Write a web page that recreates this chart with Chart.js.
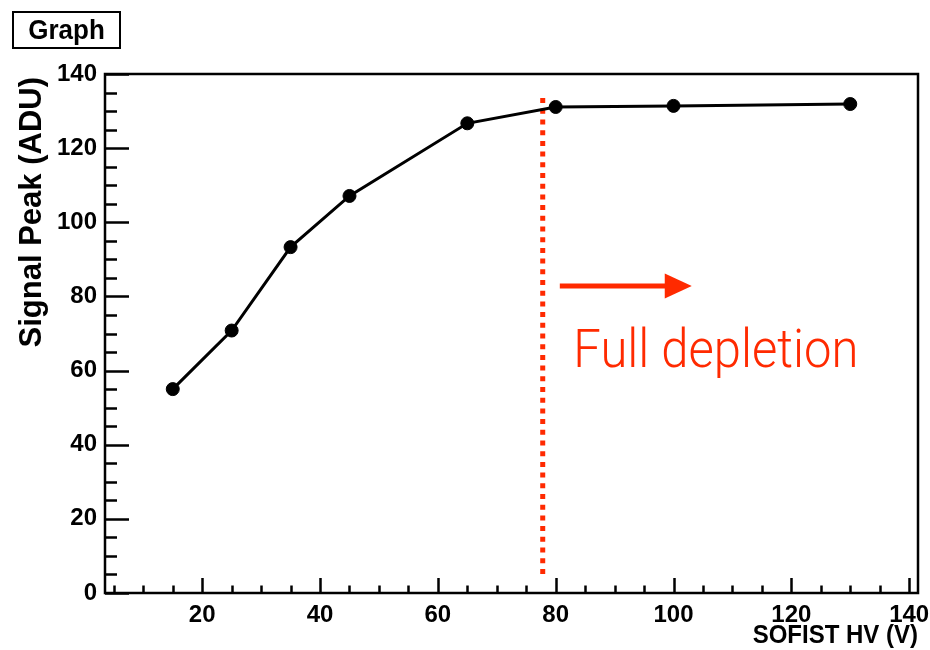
<!DOCTYPE html>
<html>
<head>
<meta charset="utf-8">
<script src="https://cdn.jsdelivr.net/npm/chart.js@4"></script>
<style>
  html, body { margin: 0; padding: 0; background: #fff; }
  #wrap { width: 930px; height: 650px; }
</style>
</head>
<body>
<div id="wrap"><canvas id="c" width="930" height="650"></canvas></div>
<script>
// ---- data ----
const hvValues = [15, 25, 35, 45, 65, 80, 100, 130];
const peakValues = [55, 70.8, 93.3, 107.1, 126.7, 131.1, 131.4, 131.9];
const xTickValues = [20, 40, 60, 80, 100, 120, 140];
const yTickValues = [0, 20, 40, 60, 80, 100, 120, 140];
const depletionV = 77.8;
const depletionLineRange = [5, 133.5];
const arrowFrom = [80.7, 82.8];
const arrowTo = [103.1, 82.8];
const annotationPos = [83.0, 61.0];
const graphTitle = 'Graph';
const xTitle = 'SOFIST HV (V)';
const yTitle = 'Signal Peak (ADU)';
const annotationText = 'Full depletion';

const RED = '#ff2a00';
const FONT = '"Liberation Sans", Arial, Helvetica, sans-serif';

const points = hvValues.map((x, i) => ({ x: x, y: peakValues[i] }));

const rootStyle = {
  id: 'rootStyle',
  beforeDatasetsDraw(chart) {
    const ctx = chart.ctx;
    const xs = chart.scales.x, ys = chart.scales.y;
    // red dotted depletion line
    ctx.save();
    ctx.strokeStyle = RED;
    ctx.lineWidth = 5;
    ctx.setLineDash([5, 5.7]);
    const px = xs.getPixelForValue(depletionV);
    ctx.beginPath();
    ctx.moveTo(px, ys.getPixelForValue(depletionLineRange[1]));
    ctx.lineTo(px, ys.getPixelForValue(depletionLineRange[0]));
    ctx.stroke();
    ctx.restore();
  },
  afterDraw(chart) {
    const ctx = chart.ctx;
    const a = chart.chartArea;
    const xs = chart.scales.x, ys = chart.scales.y;
    ctx.save();
    // frame
    ctx.strokeStyle = '#000';
    ctx.lineWidth = 2.5;
    ctx.strokeRect(a.left, a.top, a.right - a.left, a.bottom - a.top);
    // y ticks (inside, left)
    ctx.beginPath();
    for (let v = 0; v <= 140; v += 5) {
      const py = Math.round(ys.getPixelForValue(v)) + 0.5;
      const len = (v % 20 === 0) ? 24 : 12;
      ctx.moveTo(a.left, py);
      ctx.lineTo(a.left + len, py);
    }
    // x ticks (inside, bottom)
    for (let v = 5; v <= 140; v += 5) {
      const px = Math.round(xs.getPixelForValue(v)) + 0.5;
      const len = (v % 20 === 0) ? 15 : 7.5;
      ctx.moveTo(px, a.bottom);
      ctx.lineTo(px, a.bottom - len);
    }
    ctx.stroke();

    // arrow
    const x1 = xs.getPixelForValue(arrowFrom[0]), y1 = ys.getPixelForValue(arrowFrom[1]);
    const x2 = xs.getPixelForValue(arrowTo[0]), y2 = ys.getPixelForValue(arrowTo[1]);
    ctx.strokeStyle = RED;
    ctx.fillStyle = RED;
    ctx.lineWidth = 5;
    ctx.beginPath();
    ctx.moveTo(x1, y1);
    ctx.lineTo(x2 - 20, y2);
    ctx.stroke();
    ctx.beginPath();
    ctx.moveTo(x2, y2);
    ctx.lineTo(x2 - 27, y2 - 12.5);
    ctx.lineTo(x2 - 27, y2 + 12.5);
    ctx.closePath();
    ctx.fill();

    // annotation text
    ctx.font = '300 49px Roboto, Lato, "Open Sans", sans-serif';
    ctx.textAlign = 'left';
    ctx.textBaseline = 'alphabetic';
    ctx.save();
    ctx.translate(xs.getPixelForValue(annotationPos[0]), ys.getPixelForValue(annotationPos[1]));
    ctx.scale(1, 1.1);
    ctx.fillText(annotationText, 0, 0);
    ctx.restore();

    // axis titles
    ctx.fillStyle = '#000';
    ctx.font = 'bold 24px ' + FONT;
    ctx.textAlign = 'right';
    ctx.save();
    ctx.translate(a.right, 643);
    ctx.scale(1, 1.1);
    ctx.fillText(xTitle, 0, 0);
    ctx.restore();

    ctx.save();
    ctx.font = 'bold 31px ' + FONT;
    ctx.translate(41, 77);
    ctx.rotate(-Math.PI / 2);
    ctx.textAlign = 'right';
    ctx.fillText(yTitle, 0, 0);
    ctx.restore();

    // Graph box
    ctx.lineWidth = 2;
    ctx.strokeStyle = '#000';
    ctx.strokeRect(13, 12, 107, 36);
    ctx.font = 'bold 26px ' + FONT;
    ctx.textAlign = 'center';
    ctx.save();
    ctx.translate(66.5, 39);
    ctx.scale(1, 1.05);
    ctx.fillText(graphTitle, 0, 0);
    ctx.restore();
    ctx.restore();
  }
};

new Chart(document.getElementById('c'), {
  type: 'scatter',
  data: {
    datasets: [{
      data: points,
      showLine: true,
      borderColor: '#000',
      borderWidth: 3,
      pointRadius: 6.5,
      pointBorderWidth: 1,
      pointBackgroundColor: '#000',
      pointBorderColor: '#000',
      tension: 0
    }]
  },
  options: {
    responsive: false,
    animation: false,
    layout: { padding: { left: 0, top: 74, right: 12, bottom: 0 } },
    plugins: { legend: { display: false }, tooltip: { enabled: false }, title: { display: false } },
    scales: {
      x: {
        type: 'linear',
        min: 3.5,
        max: 141.5,
        grid: { display: false, drawTicks: false, tickLength: 0 },
        border: { display: false },
        afterBuildTicks: (s) => { s.ticks = xTickValues.map(v => ({ value: v })); },
        afterFit: (s) => { s.height = 57; s.paddingLeft = 0; s.paddingRight = 0; },
        ticks: {
          color: '#000',
          padding: 8,
          maxRotation: 0,
          autoSkip: false,
          font: { family: FONT, size: 24, weight: 'bold' }
        }
      },
      y: {
        type: 'linear',
        min: 0,
        max: 140,
        grid: { display: false, drawTicks: false, tickLength: 0 },
        border: { display: false },
        afterBuildTicks: (s) => { s.ticks = yTickValues.map(v => ({ value: v })); },
        afterFit: (s) => { s.width = 105; s.paddingTop = 0; s.paddingBottom = 0; },
        ticks: {
          color: '#000',
          padding: 8,
          autoSkip: false,
          font: { family: FONT, size: 24, weight: 'bold' }
        }
      }
    }
  },
  plugins: [rootStyle]
});
</script>
</body>
</html>
